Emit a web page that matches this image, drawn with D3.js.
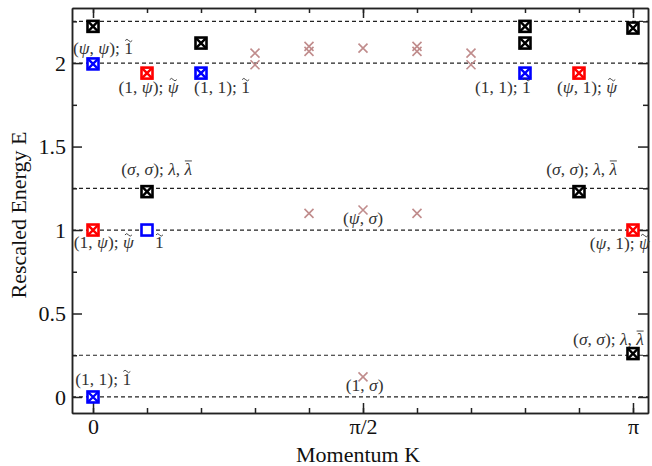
<!DOCTYPE html>
<head>
  <meta charset="utf-8">
  <script src="https://d3js.org/d3.v7.min.js"></script>
  <style>
    body { margin: 0; background: #fff; }
    svg { display: block; font-family: "Liberation Serif", "DejaVu Serif", serif; }
    .gr { font-style: italic; }
  </style>
</head>
<body>
  <svg width="652" height="466"></svg>
  <script>
    // momentum given in units of pi, energy rescaled
    var blackK = [0, 0.2, 0.8, 0.8, 1.0, 0.1, 0.9, 1.0];
    var blackE = [2.22, 2.12, 2.22, 2.12, 2.21, 1.23, 1.23, 0.26];
    var blueK = [0, 0.2, 0.8, 0];
    var blueE = [1.995, 1.94, 1.94, 0];
    var redK = [0.1, 0.9, 0, 1.0];
    var redE = [1.94, 1.94, 1.0, 1.0];
    var openK = [0.1];
    var openE = [1.0];
    var crossK = [0.3, 0.3, 0.4, 0.4, 0.5, 0.6, 0.6, 0.7, 0.7, 0.4, 0.5, 0.6, 0.5];
    var crossE = [2.06, 1.99, 2.10, 2.07, 2.09, 2.10, 2.07, 2.06, 1.99, 1.10, 1.12, 1.10, 0.12];
    var dashedE = [0, 0.25, 1, 1.25, 2, 2.25];
    var xTicks = [0, 0.5, 1];
    var xTickLabels = ['0', 'π/2', 'π'];
    var yTicks = [0, 0.5, 1, 1.5, 2];

    // annotation labels: [K, E, anchor, text]; "~" after a char = tilde, "^" = bar
    var labels = [
      [0.0185, 2.054, 'middle', '(ψ, ψ); 1~'],
      [0.103, 1.82, 'middle', '(1, ψ); ψ~'],
      [0.239, 1.82, 'middle', '(1, 1); 1~'],
      [0.759, 1.82, 'middle', '(1, 1); 1~'],
      [0.915, 1.82, 'middle', '(ψ, 1); ψ~'],
      [0.118, 1.33, 'middle', '(σ, σ); λ, λ^'],
      [0.02, 0.89, 'middle', '(1, ψ); ψ~'],
      [0.115, 0.89, 'start', '1~'],
      [0.5, 1.036, 'middle', '(ψ, σ)'],
      [0.905, 1.33, 'middle', '(σ, σ); λ, λ^'],
      [0.92, 0.886, 'start', '(ψ, 1); ψ~'],
      [0.019, 0.072, 'middle', '(1, 1); 1~'],
      [0.503, 0.036, 'middle', '(1, σ)'],
      [0.889, 0.311, 'start', '(σ, σ); λ, λ^']
    ];

    var pLeft = 72, pRight = 648, pTop = 8, pBottom = 413;
    var svg = d3.select('svg');

    var x = d3.scaleLinear().domain([-0.0389, 1.0278]).range([pLeft, pRight]);
    var y = d3.scaleLinear().domain([-0.096, 2.33]).range([pBottom, pTop]);

    // dashed reference levels
    svg.append('g').selectAll('line')
      .data(dashedE).enter().append('line')
      .attr('x1', pLeft).attr('x2', pRight)
      .attr('y1', function(d) { return y(d); })
      .attr('y2', function(d) { return y(d); })
      .attr('stroke', '#222').attr('stroke-width', 1.2)
      .attr('stroke-dasharray', '4,3');

    // axes with inward ticks
    var minorX = d3.range(0, 11).map(function(i) { return i / 10; });
    var minorY = [0.25, 0.75, 1.25, 1.75, 2.25];
    function styleAxis(g) {
      g.selectAll('path').attr('stroke', '#222').attr('stroke-width', 1.5);
      g.selectAll('line').attr('stroke', '#222').attr('stroke-width', 1.5);
      g.selectAll('text').attr('fill', '#111')
        .style('font-family', '"Liberation Serif", serif').style('font-size', '22px');
    }
    svg.append('g').attr('transform', 'translate(0,' + pBottom + ')')
      .call(d3.axisBottom(x).tickValues(minorX).tickSize(-5).tickFormat('').tickSizeOuter(0))
      .call(styleAxis);
    svg.append('g').attr('transform', 'translate(0,' + pBottom + ')')
      .call(d3.axisBottom(x).tickValues(xTicks).tickSize(-10).tickSizeOuter(0).tickPadding(5)
        .tickFormat(function(d, i) { return xTickLabels[i]; }))
      .call(styleAxis);
    svg.append('g').attr('transform', 'translate(0,' + pTop + ')')
      .call(d3.axisTop(x).tickValues(minorX).tickSize(-5).tickFormat('').tickSizeOuter(0))
      .call(styleAxis);
    svg.append('g').attr('transform', 'translate(0,' + pTop + ')')
      .call(d3.axisTop(x).tickValues(xTicks).tickSize(-10).tickFormat('').tickSizeOuter(0))
      .call(styleAxis);
    svg.append('g').attr('transform', 'translate(' + pLeft + ',0)')
      .call(d3.axisLeft(y).tickValues(minorY).tickSize(-5).tickFormat('').tickSizeOuter(0))
      .call(styleAxis);
    svg.append('g').attr('transform', 'translate(' + pLeft + ',0)')
      .call(d3.axisLeft(y).tickValues(yTicks).tickSize(-10).tickSizeOuter(0).tickPadding(6)
        .tickFormat(d3.format('')))
      .call(styleAxis);
    svg.append('g').attr('transform', 'translate(' + pRight + ',0)')
      .call(d3.axisRight(y).tickValues(minorY).tickSize(-5).tickFormat('').tickSizeOuter(0))
      .call(styleAxis);
    svg.append('g').attr('transform', 'translate(' + pRight + ',0)')
      .call(d3.axisRight(y).tickValues(yTicks).tickSize(-10).tickFormat('').tickSizeOuter(0))
      .call(styleAxis);

    // axis titles
    svg.append('text').attr('x', (pLeft + pRight) / 2 - 2).attr('y', 462)
      .attr('text-anchor', 'middle').style('font-size', '22px').attr('fill', '#111')
      .text('Momentum K');
    svg.append('text')
      .attr('transform', 'translate(26,215)rotate(-90)')
      .attr('text-anchor', 'middle').style('font-size', '22px').attr('fill', '#111')
      .text('Rescaled Energy E');

    // boxed-cross markers
    var s = 5.5;
    function boxes(K, E, color, withCross) {
      var g = svg.append('g').selectAll('g')
        .data(d3.zip(K, E)).enter().append('g')
        .attr('transform', function(d) { return 'translate(' + x(d[0]) + ',' + y(d[1]) + ')'; });
      g.append('rect')
        .attr('x', -s).attr('y', -s).attr('width', 2 * s).attr('height', 2 * s)
        .attr('fill', 'white').attr('stroke', color).attr('stroke-width', 2.6);
      if (withCross) {
        g.append('path')
          .attr('d', 'M' + -s + ',' + -s + 'L' + s + ',' + s + 'M' + s + ',' + -s + 'L' + -s + ',' + s)
          .attr('stroke', color).attr('stroke-width', 2.4);
      }
    }
    boxes(blackK, blackE, '#000', true);
    boxes(blueK, blueE, '#0000ff', true);
    boxes(redK, redE, '#ff0000', true);
    boxes(openK, openE, '#0000ff', false);

    // crosses
    var c = 4.5;
    svg.append('g').selectAll('path')
      .data(d3.zip(crossK, crossE)).enter().append('path')
      .attr('d', function(d) {
        var cx = x(d[0]), cy = y(d[1]);
        return 'M' + (cx - c) + ',' + (cy - c) + 'L' + (cx + c) + ',' + (cy + c) +
          'M' + (cx + c) + ',' + (cy - c) + 'L' + (cx - c) + ',' + (cy + c);
      })
      .attr('stroke', '#c08c8c').attr('stroke-width', 1.6).attr('fill', 'none');

    // labels, greek letters in italic, accents drawn above the glyphs
    var fs = 17.5;
    var labG = svg.append('g');
    labels.forEach(function(d) {
      var t = labG.append('text')
        .attr('x', x(d[0])).attr('y', y(d[1]))
        .attr('text-anchor', d[2])
        .style('font-size', fs + 'px').attr('fill', '#333');
      var plain = '', accents = [];
      var parts = d[3].match(/[ψσλ]|[^ψσλ]+/g);
      parts.forEach(function(p) {
        var out = '';
        for (var i = 0; i < p.length; i++) {
          if (p[i] === '~' || p[i] === '^') {
            accents.push({ idx: plain.length + out.length - 1, kind: p[i], it: /[ψσλ]/.test(p) });
          } else out += p[i];
        }
        t.append('tspan').attr('class', /[ψσλ]/.test(p) ? 'gr' : null).text(out);
        plain += out;
      });
      accents.forEach(function(a) {
        var ext = t.node().getExtentOfChar(a.idx);
        var cx = ext.x + ext.width / 2 + (a.it ? 1.5 : 0);
        var y0 = y(d[1]) - fs * 0.8;
        var p = a.kind === '~'
          ? 'M' + (cx - 3.5) + ',' + (y0 + 0.5) + 'q1.75,-2.5 3.5,0t3.5,0'
          : 'M' + (cx - 3.5) + ',' + y0 + 'h7';
        labG.append('path').attr('d', p).attr('fill', 'none')
          .attr('stroke', '#333').attr('stroke-width', 0.9);
      });
    });
  </script>
</body>
